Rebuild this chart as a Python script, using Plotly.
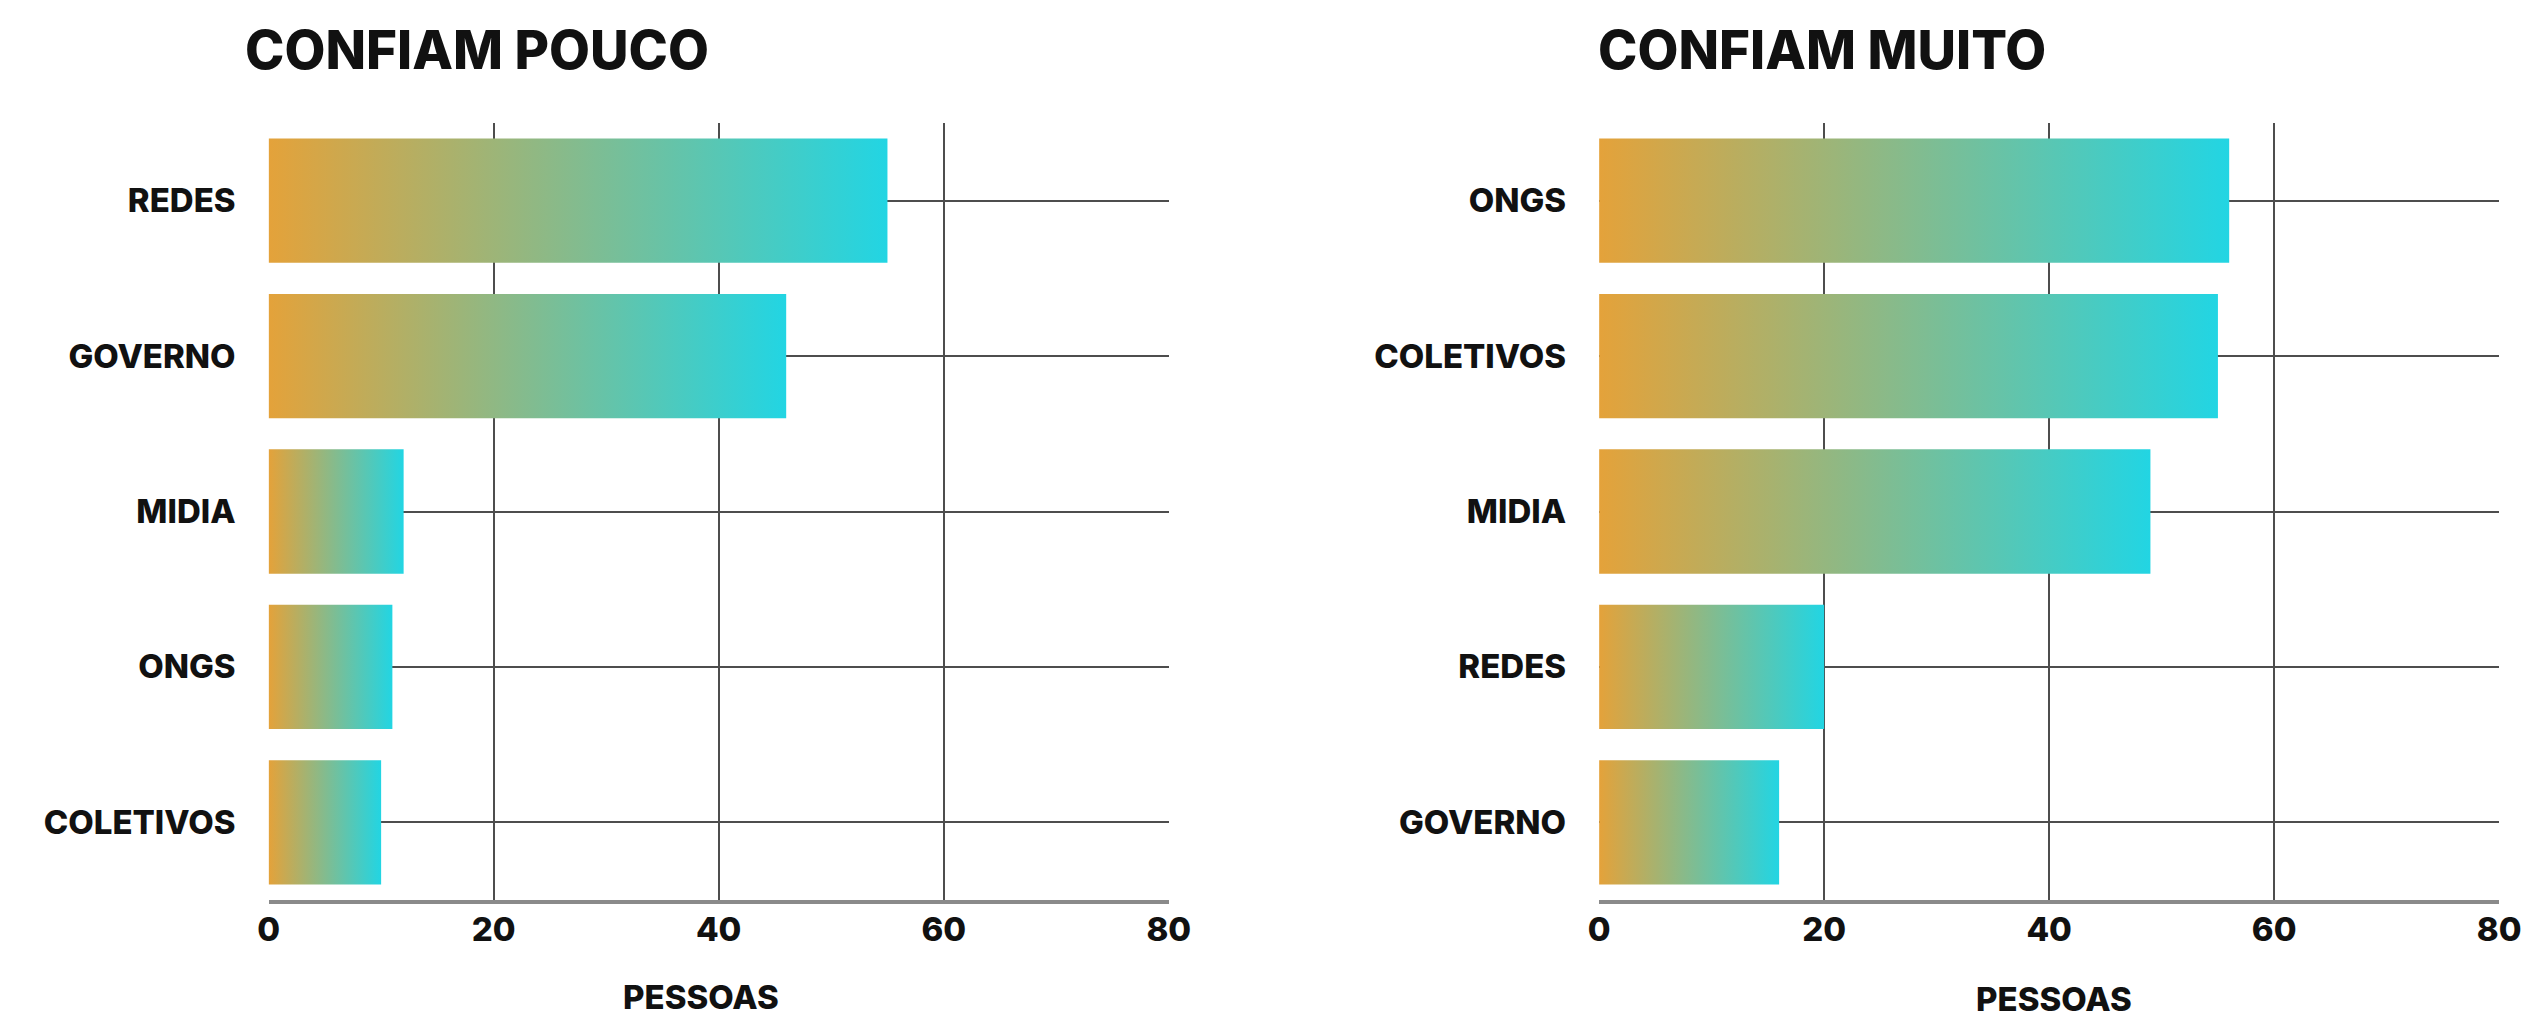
import plotly.graph_objects as go

# Trust survey: how many people trust each source little / a lot
pouco_cats = ["REDES", "GOVERNO", "MIDIA", "ONGS", "COLETIVOS"]
pouco_vals = [55, 46, 12, 11, 10]

muito_cats = ["ONGS", "COLETIVOS", "MIDIA", "REDES", "GOVERNO"]
muito_vals = [56, 55, 49, 20, 16]

x_ticks = [0, 20, 40, 60, 80]
titles = ["CONFIAM POUCO", "CONFIAM MUITO"]
x_label = "PESSOAS"

ORANGE = "#E4A23A"
CYAN = "#22D5E3"
GRID = "#4d4d4d"
INK = "#111111"
FONT = "Inter"
BAR_HALF = 0.4

W, H = 2539, 1020


def px_x(p):
    return p / W


def px_y(p):
    return 1 - p / H


fig = go.Figure()


def add_panel(cats, vals, xa, ya):
    # each bar is a filled rectangle so it can carry its own left-to-right gradient
    for i, v in enumerate(vals):
        fig.add_trace(go.Scatter(
            x=[0, v, v, 0, 0],
            y=[i - BAR_HALF, i - BAR_HALF, i + BAR_HALF, i + BAR_HALF, i - BAR_HALF],
            mode="lines",
            line=dict(width=0),
            fill="toself",
            fillgradient=dict(type="horizontal",
                              colorscale=[[0, ORANGE], [1, CYAN]]),
            name=cats[i],
            hoverinfo="text",
            text=f"{cats[i]}: {v}",
            xaxis=xa, yaxis=ya,
            showlegend=False,
        ))


add_panel(pouco_cats, pouco_vals, "x", "y")
add_panel(muito_cats, muito_vals, "x2", "y2")

xcommon = dict(
    range=[0, 80], tickvals=x_ticks, ticktext=[str(t) for t in x_ticks],
    showgrid=True, gridcolor=GRID, gridwidth=2, zeroline=False,
    showline=True, linecolor="#8a8a8a", linewidth=4,
    ticks="", ticklabelstandoff=-3,
    tickfont=dict(family=FONT, size=33, color=INK, weight=800),
    fixedrange=True,
)


def ycommon(cats):
    return dict(
        range=[len(cats) - 0.5, -0.5],
        tickvals=list(range(len(cats))), ticktext=cats,
        showgrid=True, gridcolor=GRID, gridwidth=2, zeroline=False,
        showline=False, ticks="", ticklabelstandoff=32,
        tickfont=dict(family=FONT, size=33, color=INK, weight=800),
        fixedrange=True,
    )


y_dom = [px_y(900), px_y(123)]

title_font = dict(family=FONT, size=53, color=INK, weight=800)
label_font = dict(family=FONT, size=33, color=INK, weight=800)

fig.update_layout(
    width=W, height=H,
    margin=dict(l=0, r=0, t=0, b=0),
    paper_bgcolor="white", plot_bgcolor="white",
    xaxis=dict(domain=[px_x(261), px_x(1173)], anchor="y", **xcommon),
    yaxis=dict(domain=y_dom, anchor="x", **ycommon(pouco_cats)),
    xaxis2=dict(domain=[px_x(1609), px_x(2521)], anchor="y2", **xcommon),
    yaxis2=dict(domain=y_dom, anchor="x2", **ycommon(muito_cats)),
    annotations=[
        dict(text=titles[0], x=px_x(235), y=px_y(50), xref="paper", yref="paper",
             xanchor="left", yanchor="middle", showarrow=False, font=title_font),
        dict(text=titles[1], x=px_x(1606), y=px_y(50), xref="paper", yref="paper",
             xanchor="left", yanchor="middle", showarrow=False, font=title_font),
        dict(text=x_label, x=px_x(699), y=px_y(997), xref="paper", yref="paper",
             xanchor="center", yanchor="middle", showarrow=False, font=label_font),
        dict(text=x_label, x=px_x(2070), y=px_y(999), xref="paper", yref="paper",
             xanchor="center", yanchor="middle", showarrow=False, font=label_font),
    ],
)

fig.write_html("out.html")
